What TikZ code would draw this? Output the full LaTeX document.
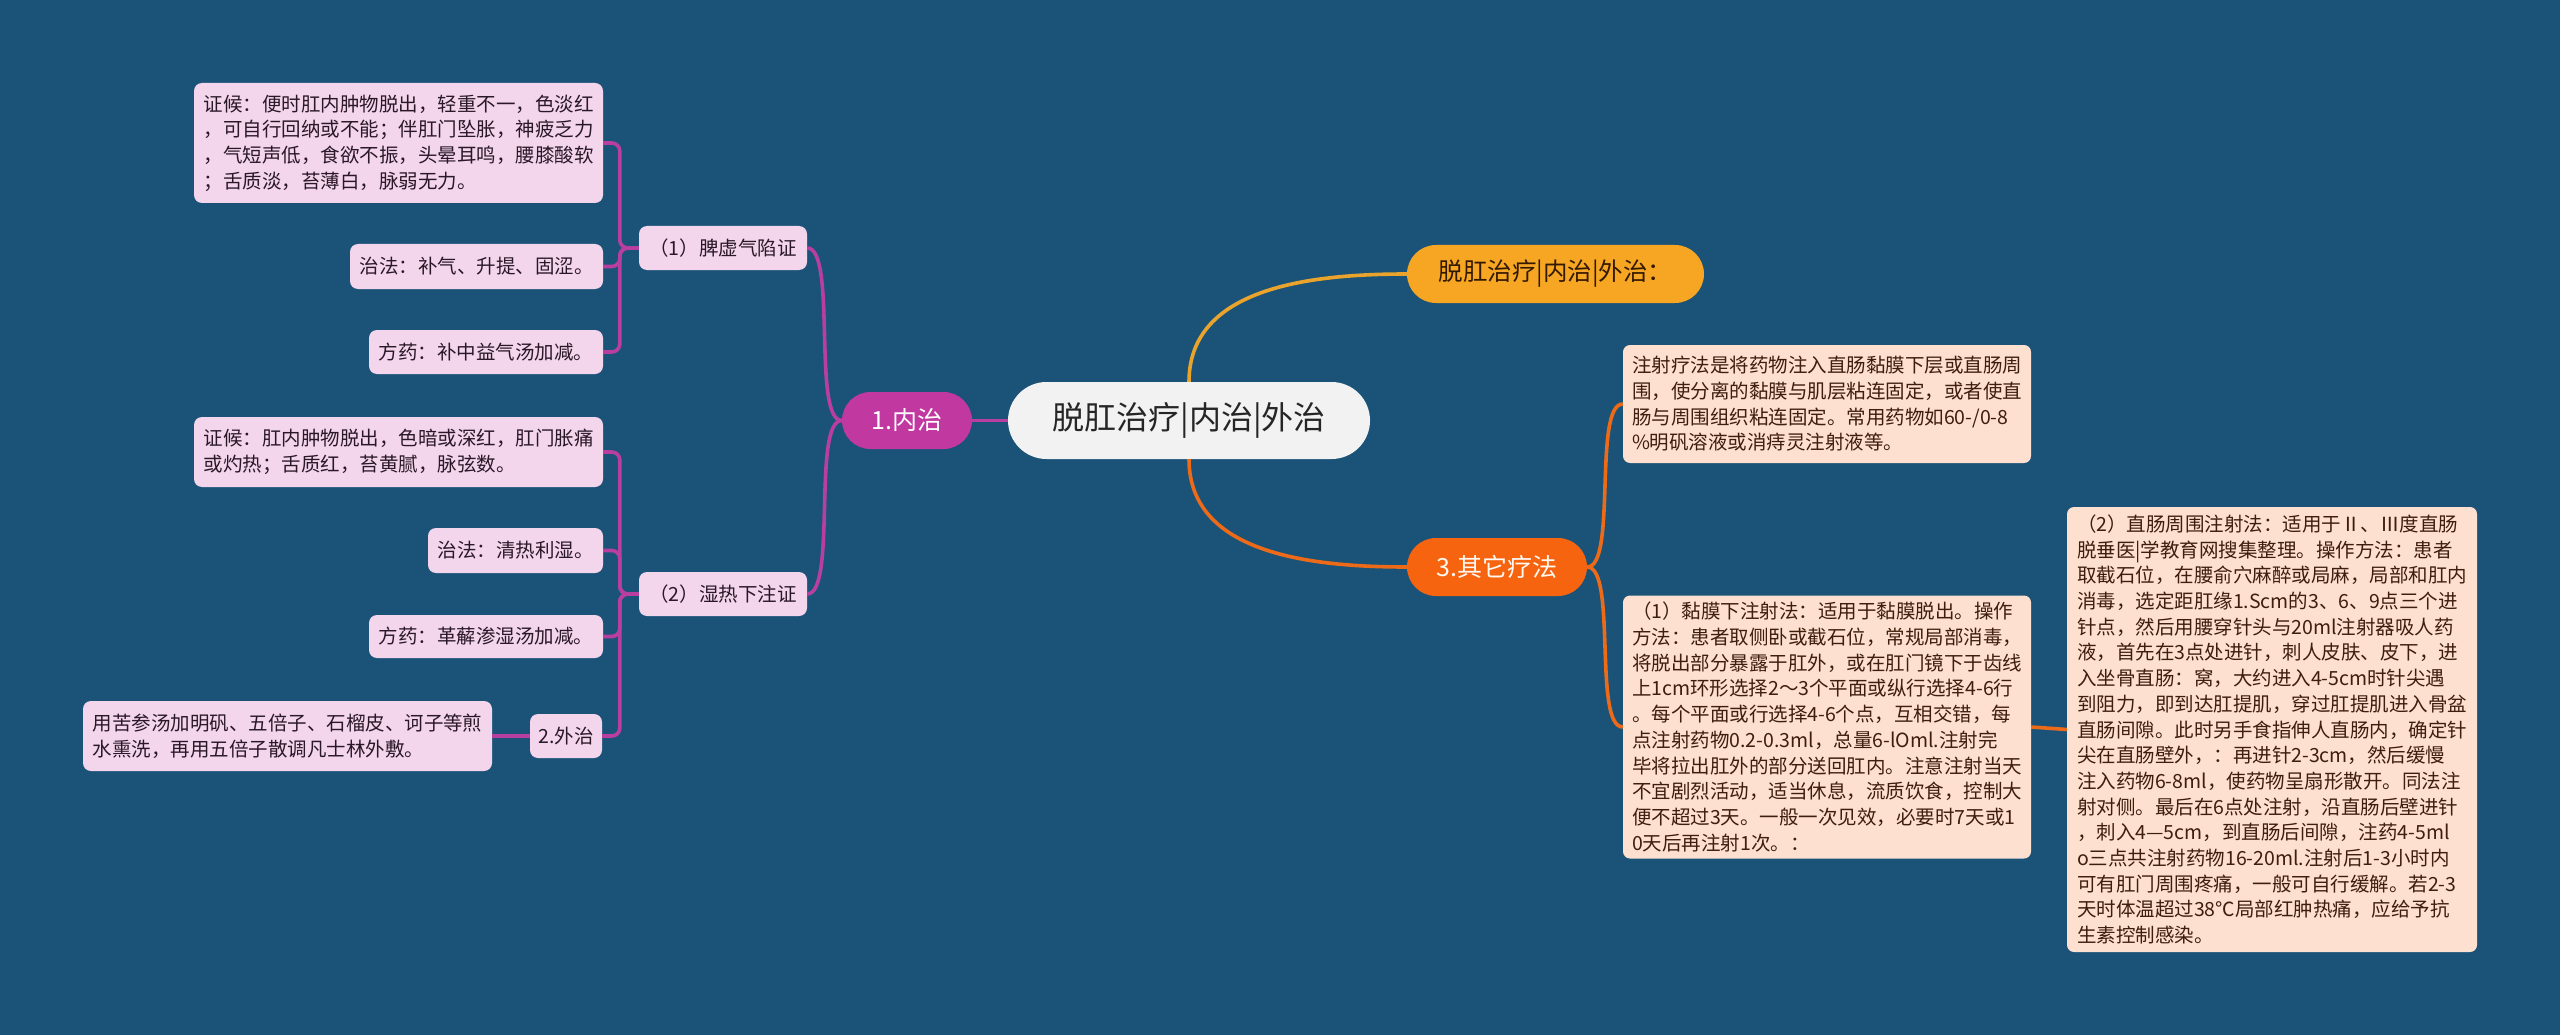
\documentclass[tikz,border=0pt]{standalone}
\usepackage{fontspec}
\setmainfont{Noto Sans CJK SC}
\usetikzlibrary{shapes.misc,calc}
\definecolor{bg}{HTML}{1B5378}
\definecolor{leafpink}{HTML}{F4D6EC}
\definecolor{leaftext}{HTML}{2A1828}
\definecolor{magnode}{HTML}{C238A1}
\definecolor{magline}{HTML}{B83FA0}
\definecolor{peach}{HTML}{FDE0CF}
\definecolor{peachtext}{HTML}{3E1E0C}
\definecolor{orangenode}{HTML}{F6A623}
\definecolor{orangeline}{HTML}{EAA42C}
\definecolor{rednode}{HTML}{F7640F}
\definecolor{redline}{HTML}{EC6A18}
\definecolor{centerfill}{HTML}{F2F2F2}
\begin{document}
\begin{tikzpicture}[x=1pt,y=1pt,
  leaf/.style={rectangle, rounded corners=8pt, fill=leafpink, text=leaftext,
    font=\fontsize{19.5}{25.7}\selectfont, align=left, inner sep=0pt},
  rbox/.style={rectangle, rounded corners=7pt, fill=peach, text=peachtext,
    font=\fontsize{19.5}{25.7}\selectfont, align=left, inner sep=0pt},
  pill/.style={rounded rectangle, inner sep=0pt},
  mline/.style={draw=magline, line width=3.6pt},
  oline/.style={draw=orangeline, line width=3.6pt},
  rline/.style={draw=redline, line width=3.6pt},
  bracket/.style={mline, rounded corners=8pt},
  curvy/.style={out distance=30pt, in distance=30pt}
]
\useasboundingbox (0,0) rectangle (2560,-1035);
\fill[bg] (0,0) rectangle (2560,-1035);

% central node
\node[pill, fill=centerfill, text=black!85, font=\fontsize{32}{38}\selectfont,
  minimum width=362pt, minimum height=77pt] (c) at (1189,-420.5) {脱肛治疗|内治|外治};

% second level
\node[pill, fill=magnode, text=white, font=\fontsize{25}{30}\selectfont,
  minimum width=130pt, minimum height=57pt] (nz) at (907,-420.5) {1.内治};
\node[pill, fill=orangenode, text=black!80!orange, font=\fontsize{24.5}{30}\selectfont,
  minimum width=297pt, minimum height=58pt] (top) at (1555.5,-274) {脱肛治疗|内治|外治：};
\node[pill, fill=rednode, text=white!95!orange, font=\fontsize{25}{30}\selectfont,
  minimum width=180pt, minimum height=58pt] (qt) at (1497,-567) {3.其它疗法};

% left third level
\node[leaf, minimum width=168pt, minimum height=44pt] (p1) at (723,-248) {（1）脾虚气陷证};
\node[leaf, minimum width=168pt, minimum height=44pt] (p2) at (723,-594) {（2）湿热下注证};

% leaves of (1)
\node[leaf, minimum width=409pt, minimum height=120pt] (z1) at (398.5,-143)
  {证候：便时肛内肿物脱出，轻重不一，色淡红\\，可自行回纳或不能；伴肛门坠胀，神疲乏力\\，气短声低，食欲不振，头晕耳鸣，腰膝酸软\\；舌质淡，苔薄白，脉弱无力。};
\node[leaf, minimum width=253pt, minimum height=45pt] (f1) at (476.5,-266.5) {治法：补气、升提、固涩。};
\node[leaf, minimum width=234pt, minimum height=44pt] (y1) at (486,-352) {方药：补中益气汤加减。};

% leaves of (2)
\node[leaf, minimum width=409pt, minimum height=70pt] (z2) at (398.5,-452)
  {证候：肛内肿物脱出，色暗或深红，肛门胀痛\\或灼热；舌质红，苔黄腻，脉弦数。};
\node[leaf, minimum width=175pt, minimum height=45pt] (f2) at (515.5,-550.5) {治法：清热利湿。};
\node[leaf, minimum width=234pt, minimum height=43pt] (y2) at (486,-636.5) {方药：革薢渗湿汤加减。};
\node[leaf, minimum width=72pt, minimum height=44pt] (w2) at (566,-736) {2.外治};
\node[leaf, minimum width=409pt, minimum height=70pt] (wl) at (287.5,-736)
  {用苦参汤加明矾、五倍子、石榴皮、诃子等煎\\水熏洗，再用五倍子散调凡士林外敷。};

% right boxes
\node[rbox, minimum width=408pt, minimum height=118pt] (b1) at (1827,-404)
  {注射疗法是将药物注入直肠黏膜下层或直肠周\\围，使分离的黏膜与肌层粘连固定，或者使直\\肠与周围组织粘连固定。常用药物如60-/0-8\\\%明矾溶液或消痔灵注射液等。};
\node[rbox, minimum width=408pt, minimum height=263pt] (b3) at (1827,-727)
  {（1）黏膜下注射法：适用于黏膜脱出。操作\\方法：患者取侧卧或截石位，常规局部消毒，\\将脱出部分暴露于肛外，或在肛门镜下于齿线\\上1cm环形选择2～3个平面或纵行选择4-6行\\。每个平面或行选择4-6个点，互相交错，每\\点注射药物0.2-0.3ml，总量6-lOml.注射完\\毕将拉出肛外的部分送回肛内。注意注射当天\\不宜剧烈活动，适当休息，流质饮食，控制大\\便不超过3天。一般一次见效，必要时7天或1\\0天后再注射1次。：};
\node[rbox, minimum width=410pt, minimum height=445pt] (b4) at (2272,-729.5)
  {（2）直肠周围注射法：适用于Ⅱ、Ⅲ度直肠\\脱垂医|学教育网搜集整理。操作方法：患者\\取截石位，在腰俞穴麻醉或局麻，局部和肛内\\消毒，选定距肛缘1.Scm的3、6、9点三个进\\针点，然后用腰穿针头与20ml注射器吸人药\\液，首先在3点处进针，刺人皮肤、皮下，进\\入坐骨直肠：窝，大约进入4-5cm时针尖遇\\到阻力，即到达肛提肌，穿过肛提肌进入骨盆\\直肠间隙。此时另手食指伸人直肠内，确定针\\尖在直肠壁外，：再进针2-3cm，然后缓慢\\注入药物6-8ml，使药物呈扇形散开。同法注\\射对侧。最后在6点处注射，沿直肠后壁进针\\，刺入4—5cm，到直肠后间隙，注药4-5ml\\o三点共注射药物16-20ml.注射后1-3小时内\\可有肛门周围疼痛，一般可自行缓解。若2-3\\天时体温超过38℃局部红肿热痛，应给予抗\\生素控制感染。};

% connectors: center
\draw[mline] (c.west) -- (nz.east);
\draw[oline] (c.north) to[out=90,in=180] (top.west);
\draw[rline] (c.south) to[out=-90,in=180] (qt.west);

% 1.内治 to (1),(2)
\draw[mline] (nz.west) to[out=180,in=0,curvy] (p1.east);
\draw[mline] (nz.west) to[out=180,in=0,curvy] (p2.east);

% brackets
\foreach \ch in {z1,f1,y1}{
  \draw[bracket] (p1.west) -- ++(-19,0) |- (\ch.east);
}
\foreach \ch in {z2,f2,y2,w2}{
  \draw[bracket] (p2.west) -- ++(-19,0) |- (\ch.east);
}
\draw[mline] (w2.west) -- (wl.east);

% right side
\draw[rline] (qt.east) to[out=0,in=180,curvy] (b1.west);
\draw[rline] (qt.east) to[out=0,in=180,curvy] (b3.west);
\draw[rline] (b3.east) -- (b4.west);
\end{tikzpicture}
\end{document}
